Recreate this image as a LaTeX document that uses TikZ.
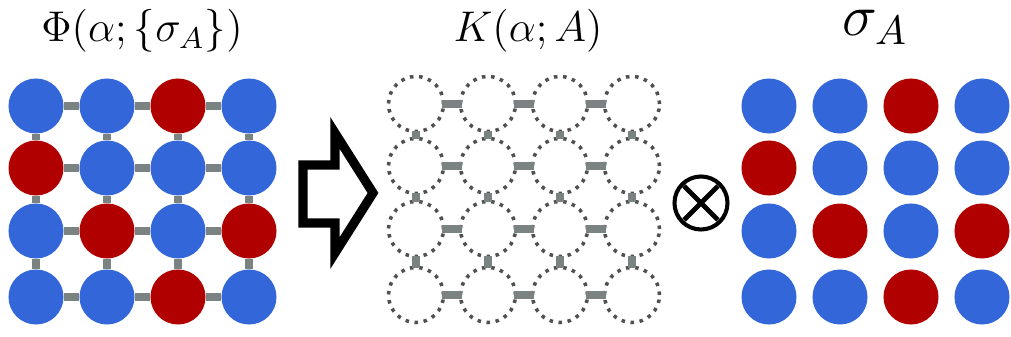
\documentclass[tikz,border=0pt]{standalone}
\usepackage{fix-cm}
\definecolor{spinblue}{RGB}{51,102,217}
\definecolor{spinred}{RGB}{176,0,0}
\definecolor{bondgray}{RGB}{122,131,130}
\definecolor{dotgray}{RGB}{80,80,80}

\begin{document}
\begin{tikzpicture}[
    x=0.01cm, y=-0.01cm,
    site/.style={circle, inner sep=0pt, minimum size=5.5mm},
    spinu/.style={site, fill=spinblue},
    spind/.style={site, fill=spinred},
    ghost/.style={site, fill=white, draw=dotgray, line width=1pt,
                  dash pattern=on 1pt off 1.6pt},
    bond/.style={draw=bondgray, line width=2.4pt},
    lbl/.style={anchor=base, inner sep=0pt},
]
\useasboundingbox (0,0) rectangle (1011,337);

% lattices: spins, kernel sites, spins again
\foreach \r/\y/\row in {1/106/{u,u,d,u},2/168/{d,u,u,u},3/231/{u,d,u,d},4/297/{u,u,d,u}}
  \foreach \s [count=\c] in \row {
    \node[spin\s] (p-\r-\c) at ({36+71*(\c-1)},\y) {};
    \node[ghost]  (k-\r-\c) at ({416+72*(\c-1)},{\y-2}) {};
    \node[spin\s] (s-\r-\c) at ({769+71*(\c-1)},\y) {};
  }

% bonds (left and middle lattice)
\foreach \i [evaluate=\i as \j using int(\i+1)] in {1,2,3}
  \foreach \c in {1,...,4} {
    \draw[bond] (p-\c-\i) -- (p-\c-\j);
    \draw[bond] (p-\i-\c) -- (p-\j-\c);
    \draw[bond, shorten <=-0.8pt, shorten >=-0.8pt] (k-\c-\i) -- (k-\c-\j);
    \draw[bond, shorten <=-0.6pt, shorten >=-0.6pt] (k-\i-\c) -- (k-\j-\c);
  }

% labels
\node[lbl, font=\fontsize{12.2}{14}\selectfont] (phi) at (142,42) {$\Phi(\alpha;\{\sigma_A\})$};
\node[lbl, font=\fontsize{12.2}{14}\selectfont] (ker) at (528,42) {$K(\alpha;A)$};
\node[lbl, font=\fontsize{16.7}{20}\selectfont] (sig) at (875,36) {$\sigma_A$};

% block arrow
\draw[line width=2.6pt, miter limit=10]
    (303,165) -- (335,165) -- (335,133) -- (373,193) -- (335,253)
    -- (335,223) -- (303,223) -- cycle;

% tensor product sign
\node[circle, draw, line width=1.15pt, inner sep=0pt, minimum size=5.3mm] (prod) at (701,203) {};
\draw[line width=1.4pt] (prod.center) ++(-17,-17) -- ++(34,34)
                        (prod.center) ++(17,-17) -- ++(-34,34);
\end{tikzpicture}
\end{document}
